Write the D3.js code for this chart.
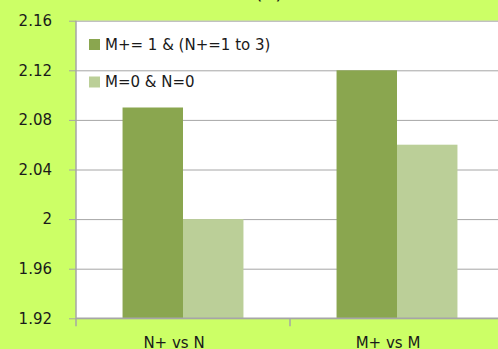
<!DOCTYPE html>
<html>
<head>
<meta charset="utf-8">
<script src="https://cdn.jsdelivr.net/npm/d3@7/dist/d3.min.js"></script>
<style>
  html, body { margin: 0; padding: 0; background: #ccff66; }
  svg { display: block; }
  text { font-family: "DejaVu Sans", Verdana, sans-serif; fill: #1a1a1a; }
</style>
</head>
<body>
<svg id="chart" width="498" height="349"></svg>
<script>
// Chart data
const categories = ["N+ vs N", "M+ vs M"];
const seriesNames = ["M+= 1 & (N+=1 to 3)", "M=0 & N=0"];
const seriesValues = [
  [2.09, 2.12],   // M+= 1 & (N+=1 to 3)
  [2.00, 2.06]    // M=0 & N=0
];
const yTicks = [1.92, 1.96, 2, 2.04, 2.08, 2.12, 2.16];
const yTickLabels = ["1.92", "1.96", "2", "2.04", "2.08", "2.12", "2.16"];
const chartTitle = "(b)";

const colors = ["#8aa64f", "#bbcf98"];

const svg = d3.select("#chart");
const W = 498, H = 349;
const plot = { left: 76, right: 504, top: 20.7, bottom: 318.3 };

svg.append("rect").attr("width", W).attr("height", H).attr("fill", "#ccff66");

const y = d3.scaleLinear().domain([1.92, 2.16]).range([plot.bottom, plot.top]);
const x0 = d3.scaleBand().domain(categories).range([plot.left, plot.right]).paddingInner(0).paddingOuter(0);
const x1 = d3.scaleBand().domain(seriesNames).range([0, x0.bandwidth()]).paddingInner(0).paddingOuter(0.77);

// Plot area
svg.append("rect")
  .attr("x", plot.left).attr("y", plot.top)
  .attr("width", plot.right - plot.left).attr("height", plot.bottom - plot.top)
  .attr("fill", "#ffffff");

// Title (sits mostly above the visible area)
svg.append("text")
  .attr("x", 269).attr("y", -0.8)
  .attr("text-anchor", "middle")
  .attr("font-size", 20)
  .text(chartTitle);

// Gridlines + left ticks
const yAxis = d3.axisLeft(y)
  .tickValues(yTicks)
  .tickFormat((d, i) => yTickLabels[i])
  .tickSize(plot.left - 69 + (plot.right - plot.left))
  .tickPadding(24 - (plot.left - 69) + 0);
const gy = svg.append("g")
  .attr("transform", `translate(${plot.right},0)`)
  .call(yAxis);
gy.select(".domain").remove();
gy.selectAll(".tick line").attr("stroke", "#a6a6a6").attr("stroke-width", 1);
gy.selectAll(".tick text")
  .attr("x", -(plot.right - 52))
  .attr("font-size", 15)
  .attr("fill", "#1a1a1a");

// Bars
const groups = svg.append("g").selectAll("g")
  .data(categories)
  .join("g")
  .attr("transform", d => `translate(${x0(d)},0)`);

groups.selectAll("rect")
  .data((c, ci) => seriesNames.map((s, si) => ({ s, si, v: seriesValues[si][ci] })))
  .join("rect")
  .attr("x", d => x1(d.s))
  .attr("width", x1.bandwidth())
  .attr("y", d => y(d.v))
  .attr("height", d => y(1.92) - y(d.v))
  .attr("fill", d => colors[d.si]);

// Vertical axis line
svg.append("line")
  .attr("x1", plot.left).attr("x2", plot.left)
  .attr("y1", plot.top).attr("y2", plot.bottom + 8)
  .attr("stroke", "#a6a6a6").attr("stroke-width", 1.5);

// Category axis
const xAxis = d3.axisBottom(x0).tickSize(0).tickPadding(0);
const gx = svg.append("g")
  .attr("transform", `translate(0,${plot.bottom})`)
  .call(xAxis);
gx.select(".domain").remove();
gx.selectAll(".tick text")
  .attr("dx", -9)
  .attr("y", 30)
  .attr("dy", 0)
  .attr("font-size", 15)
  .attr("fill", "#1a1a1a");

svg.append("line")
  .attr("x1", plot.left).attr("x2", plot.right)
  .attr("y1", plot.bottom).attr("y2", plot.bottom)
  .attr("stroke", "#a6a6a6").attr("stroke-width", 1.5);

// Category boundary ticks
svg.append("g").selectAll("line")
  .data(categories.slice(1))
  .join("line")
  .attr("x1", d => x0(d)).attr("x2", d => x0(d))
  .attr("y1", plot.bottom).attr("y2", plot.bottom + 8)
  .attr("stroke", "#a6a6a6").attr("stroke-width", 1.5);

// Legend
const legend = svg.append("g").selectAll("g")
  .data(seriesNames)
  .join("g")
  .attr("transform", (d, i) => `translate(89,${44.5 + i * 37.5})`);
legend.append("rect")
  .attr("x", 0).attr("y", -5.5)
  .attr("width", 11).attr("height", 11)
  .attr("fill", (d, i) => colors[i]);
legend.append("text")
  .attr("x", 16).attr("y", 0)
  .attr("dy", "0.36em")
  .attr("font-size", 15)
  .text(d => d);
</script>
</body>
</html>
